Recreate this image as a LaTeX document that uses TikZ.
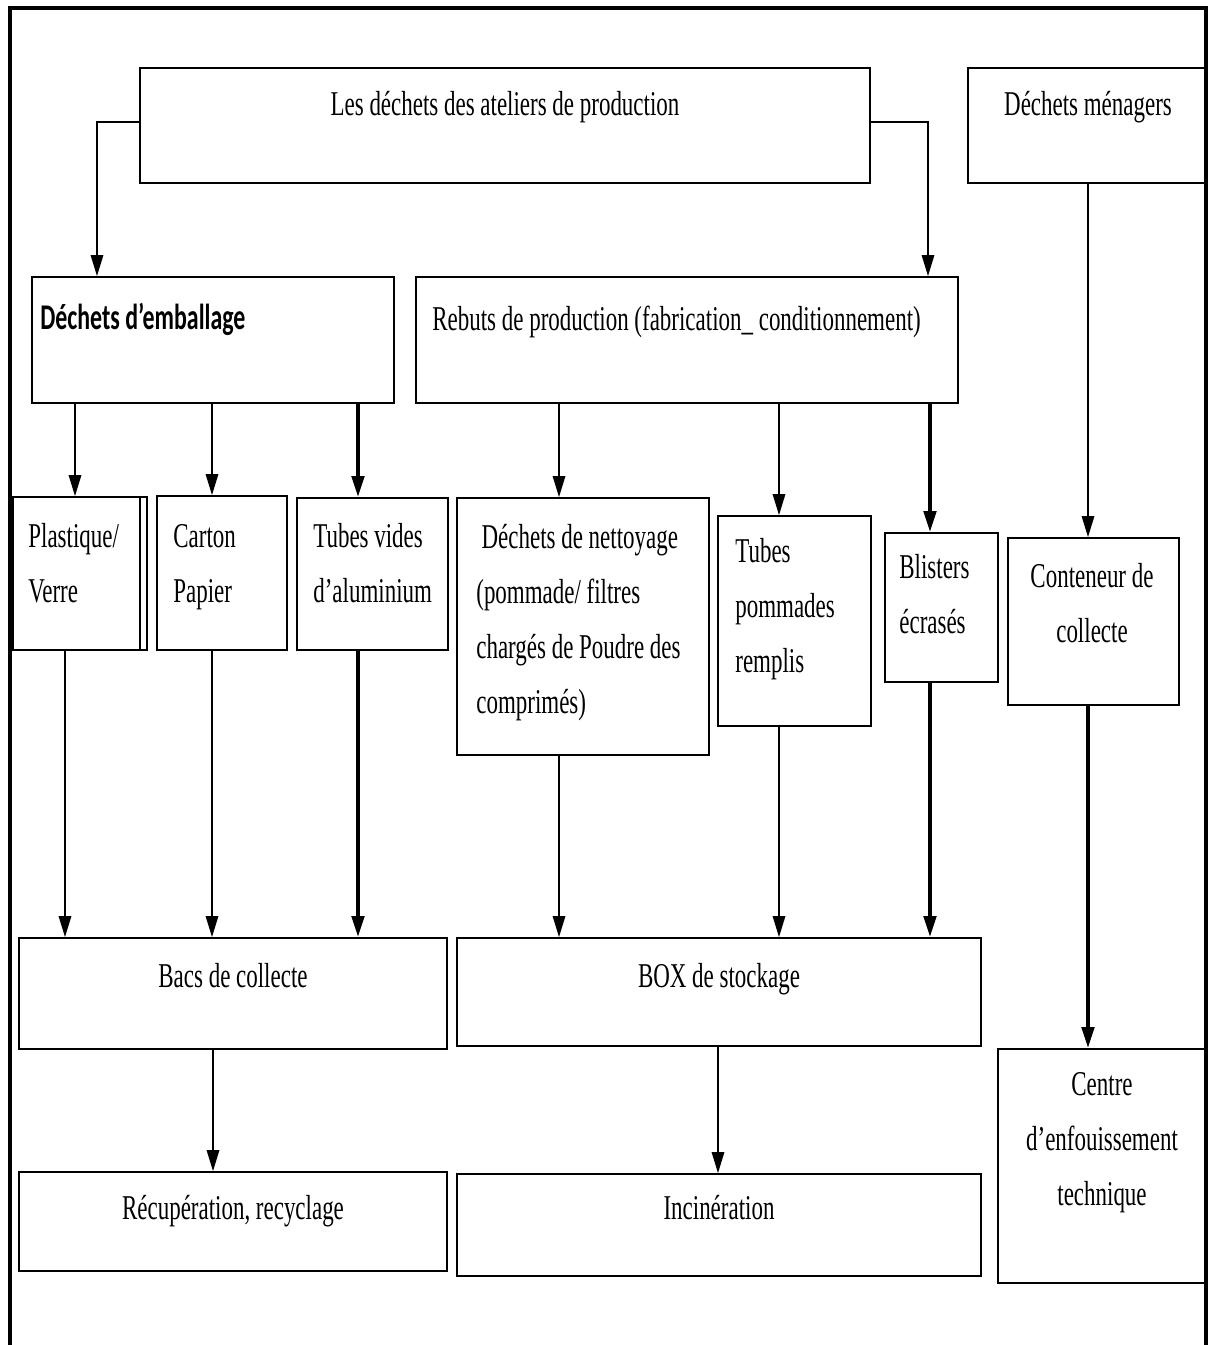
\documentclass[tikz,border=0pt]{standalone}
\usepackage{fontspec}
\setmainfont{Liberation Serif}[FakeStretch=0.66]
\newfontfamily\embfont{Carlito}[FakeStretch=0.66]
\usetikzlibrary{arrows.meta,fit}

\begin{document}
\begin{tikzpicture}[x=0.02cm,y=-0.02cm, % Pixelraster
  box/.style={draw,line width=0.9pt,inner sep=0pt},
  txt/.style={inner sep=0pt,font=\fontsize{19.8}{31.2}\selectfont},
  arr/.style={line width=1.2pt,-{Triangle[width=7pt,length=12pt]}},
  arrbold/.style={arr,line width=2.2pt}]
\useasboundingbox (0,0) rectangle (1210,1345);

% Cadre
\draw[line width=2.4pt] (10,1345) -- (10,8) -- (1206,8) -- (1206,1345);

% Sources
\node[box,fit={(140,68) (870,183)}] (ateliers) {};
\node[txt,anchor=base] (ateliers-t) at (505,115) {Les déchets des ateliers de production};
\node[box,fit={(968,68) (1206,183)}] (menagers) {};
\node[txt,anchor=base] (menagers-t) at (1088,115) {Déchets ménagers};

% Deuxième niveau
\node[box,fit={(32,277) (394,403)}] (emballage) {};
\node[txt,anchor=base west,font=\embfont\bfseries\fontsize{20.6}{31}\selectfont] (emballage-t) at (40,329) {Déchets d’emballage};
\node[box,fit={(416,277) (958,403)}] (rebuts) {};
\node[txt,anchor=base west] (rebuts-t) at (432,330) {Rebuts de production (fabrication\_ conditionnement)};

% Types de déchets (base = sous la dernière ligne)
\node[box,fit={(13,497) (147,650)}] (plastique) {};
\draw[line width=0.9pt] (140,497) -- (140,650); % double bord
\node[txt,anchor=base west,align=left] (plastique-t) at (28,602) {Plastique/\\Verre};
\node[box,fit={(157,496) (287,650)}] (carton) {};
\node[txt,anchor=base west,align=left] (carton-t) at (173,602) {Carton\\Papier};
\node[box,fit={(297,498) (448,650)}] (tubesvides) {};
\node[txt,anchor=base west,align=left] (tubesvides-t) at (313,602) {Tubes vides\\d’aluminium};
\node[box,fit={(457,498) (709,755)}] (nettoyage) {};
\node[txt,anchor=base west,align=left] (nettoyage-t) at (476,713) {\hspace{3pt}Déchets de nettoyage\\(pommade/ filtres\\chargés de Poudre des\\comprimés)};
\node[box,fit={(718,516) (871,726)}] (tubesremplis) {};
\node[txt,anchor=base west,align=left] (tubesremplis-t) at (735,672) {Tubes\\pommades\\remplis};
\node[box,fit={(885,533) (998,682)}] (blisters) {};
\node[txt,anchor=base west,align=left] (blisters-t) at (899,633) {Blisters\\écrasés};
\node[box,fit={(1008,538) (1179,705)}] (conteneur) {};
\node[txt,anchor=base,align=center] (conteneur-t) at (1092,642) {Conteneur de\\collecte};

% Stockage
\node[box,fit={(19,938) (447,1049)}] (bacs) {};
\node[txt,anchor=base] (bacs-t) at (233,987) {Bacs de collecte};
\node[box,fit={(457,938) (981,1046)}] (stockage) {};
\node[txt,anchor=base] (stockage-t) at (719,987) {BOX de stockage};

% Destinations
\node[box,fit={(19,1172) (447,1271)}] (recup) {};
\node[txt,anchor=base] (recup-t) at (233,1219) {Récupération, recyclage};
\node[box,fit={(457,1174) (981,1276)}] (incin) {};
\node[txt,anchor=base] (incin-t) at (719,1219) {Incinération};
\node[box,fit={(998,1049) (1206,1283)}] (centre) {};
\node[txt,anchor=base,align=center] (centre-t) at (1102,1205) {Centre\\d’enfouissement\\technique};

% Flèches
\draw[arr] (ateliers.west |- 0,122) -| (emballage.north -| 97,0);
\draw[arr] (ateliers.east |- 0,122) -| (rebuts.north -| 928,0);
\foreach \a/\b/\x in {emballage/plastique/75, emballage/carton/212,
  rebuts/nettoyage/559, rebuts/tubesremplis/779, menagers/conteneur/1088,
  plastique/bacs/65, carton/bacs/212, nettoyage/stockage/559,
  tubesremplis/stockage/779, bacs/recup/213, stockage/incin/718}{
  \draw[arr] (\a.south -| \x,0) -- (\b.north -| \x,0);
}
\foreach \a/\b/\x in {emballage/tubesvides/358, rebuts/blisters/930,
  tubesvides/bacs/358, blisters/stockage/930, conteneur/centre/1088}{
  \draw[arrbold] (\a.south -| \x,0) -- (\b.north -| \x,0);
}

\end{tikzpicture}
\end{document}
